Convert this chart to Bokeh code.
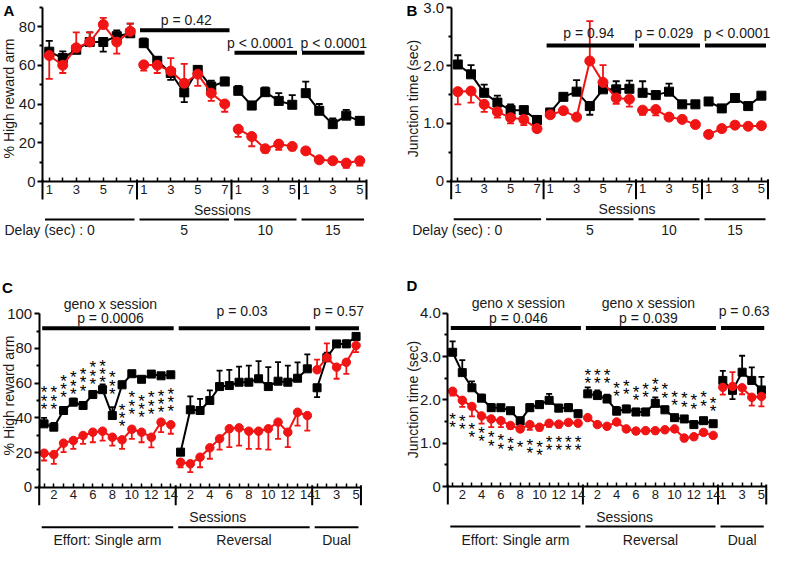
import math
from bokeh.plotting import figure
from bokeh.models import LinearAxis, FixedTicker, Range1d
from bokeh.layouts import column, row
from bokeh.embed import file_html
from bokeh.resources import INLINE
from bokeh.core.properties import value

FONT = "Liberation Sans"
RED = "#f01414"
BLACK = "#000000"
TXT = "#1a1a1a"

# ---------------- Panel A : % High reward arm across delay blocks
A_blocks = [7, 7, 5, 5]
A_tick_labels = [[1, 3, 5, 7], [1, 3, 5, 7], [1, 3, 5], [1, 3, 5]]
A_block_names = ["Delay (sec) : 0", "5", "10", "15"]
A_black = [67, 63.7, 68, 72, 72, 75, 76.5,
           71.4, 62.3, 56, 46, 57.6, 49, 51.6,
           46.8, 39.2, 46.1, 41.6, 39.6,
           45.6, 36.5, 29.6, 34, 31.3]
A_black_err = [5.6, 3.5, 2, 5, -5, 3, 5,
               2.5, 2, -3.5, -5, 2, 3, 2,
               2.5, 2, 2.5, 4, 5,
               6, 3.5, 3, 3, 2]
A_red = [65, 60, 69, 72, 81, 72, 77.5,
         60.2, 60, 57, 50.7, 55.4, 45.6, 40,
         27, 23.2, 16.9, 19.3, 18.1,
         15.8, 11.2, 10.7, 9.5, 10.7]
A_red_err = [-12, -4, 8, 5, 3.5, -6, 4,
             -3, -4, 6.7, 10, -6, -4, -4,
             -4, -5, -2, -3, -2,
             -1, -1.5, -1.5, -2.5, -2.5]
A_p_blocks = [1, 2, 3]
A_p_text = [["p = 0.42"], ["p < 0.0001"], ["p < 0.0001"]]
A_p_bar = [78.1, 66.4, 66.4]
A_yticks = [0, 20, 40, 60, 80]
A_ytick_labels = ["0", "20", "40", "60", "80"]
A_yminor = [10, 30, 50, 70, 90]
A_ymax = 90

# ---------------- Panel B : junction time across delay blocks
B_blocks = [7, 7, 5, 5]
B_tick_labels = [[1, 3, 5, 7], [1, 3, 5, 7], [1, 3, 5], [1, 3, 5]]
B_block_names = ["Delay (sec) : 0", "5", "10", "15"]
B_black = [2.02, 1.85, 1.53, 1.36, 1.23, 1.23, 1.06,
           1.19, 1.46, 1.55, 1.30, 1.59, 1.59, 1.60,
           1.53, 1.49, 1.55, 1.33, 1.33,
           1.38, 1.26, 1.44, 1.30, 1.48]
B_black_err = [0.16, 0.16, 0.14, 0.12, 0.1, 0.06, 0.06,
               0.05, 0.05, 0.2, -0.15, 0.07, 0.14, 0.14,
               0.2, 0.07, 0.14, 0.05, 0.05,
               0.06, 0.06, 0.05, 0.05, 0.05]
B_red = [1.55, 1.56, 1.33, 1.20, 1.10, 1.07, 0.91,
         1.15, 1.22, 1.11, 2.08, 1.71, 1.44, 1.42,
         1.23, 1.24, 1.11, 1.07, 0.98,
         0.81, 0.91, 0.97, 0.95, 0.96]
B_red_err = [-0.22, -0.2, -0.13, -0.1, -0.1, -0.1, -0.05,
             -0.05, -0.05, -0.04, 0.69, 0.3, -0.1, -0.13,
             -0.08, -0.1, -0.04, -0.04, -0.04,
             -0.03, -0.03, -0.03, -0.03, -0.03]
B_p_blocks = [1, 2, 3]
B_p_text = [["p = 0.94"], ["p = 0.029"], ["p < 0.0001"]]
B_p_bar = [2.35, 2.35, 2.35]
B_yticks = [0, 1, 2, 3]
B_ytick_labels = ["0", "1.0", "2.0", "3.0"]
B_yminor = [0.5, 1.5, 2.5]
B_ymax = 3.0

# ---------------- Panel C : % High reward arm, effort / reversal / dual
C_blocks = [14, 14, 5]
C_tick_labels = [[2, 4, 6, 8, 10, 12, 14], [2, 4, 6, 8, 10, 12, 14], [1, 3, 5]]
C_block_names = ["Effort: Single arm", "Reversal", "Dual"]
C_black = [36.5, 34.6, 44.2, 49, 47.1, 53.4, 56.2, 41.3, 59, 65.4, 62.2, 65.2, 64.2, 64.8,
           20.2, 44.6, 44.2, 50, 58, 58.6, 60.5, 60.5, 62.5, 58, 61.1, 60.5, 62.8, 68.2,
           57.3, 74.6, 82.6, 82.6, 86.9]
C_black_err = [3.5, 2.5, 2, 2, 2, 2, 3, 4.8, 2, 1.5, 1.5, 1.5, 1.5, 1.5,
               1.5, 7.7, 6.7, 5.8, 9.2, 9, 9, 9.6, 10.2, 11.2, 11, 9.6, 9.2, 8.3,
               -5.4, 3, 1.5, 2, 1.5]
C_red = [19.6, 18.8, 25.4, 26.9, 29.8, 31.7, 32.3, 28.8, 27.3, 33.4, 31.7, 28.8, 37.5, 36,
         14.4, 13.5, 17.3, 22.7, 27.9, 33.7, 34.2, 32.3, 32.3, 33.7, 37.5, 31.7, 43.2, 41.3,
         67.7, 74.6, 69.2, 72, 81.7]
C_red_err = [-4.2, -5.4, -5.2, -4.8, -4.8, -5.8, -5.4, -4.8, -5.2, -5.6, -5.8, -5.8, -5.8, -5.2,
             -2.9, -4.8, -5.8, -6.3, -6.3, -10.6, -10.2, -10.2, -10.2, -12, -9.6, -8.6, -7.7, -8.7,
             5.8, 8.3, -6.7, -6.7, -3.8]
C_p_blocks = [0, 1, 2]
C_p_text = [["geno x session", "p = 0.0006"], ["p = 0.03"], ["p = 0.57"]]
C_p_bar = [91.6, 91.6, 91.6]
C_star_x = [1, 2, 3, 4, 5, 6, 7, 8, 9, 10, 11, 12, 13, 14]
C_star_mid = [51.9, 51.9, 58.6, 60.5, 62.5, 66.3, 67.3, 60.5, 41.9, 49, 47.1, 49, 50, 51]
C_star_n = [3, 3, 3, 3, 3, 3, 3, 3, 3, 3, 3, 3, 3, 3]
C_yticks = [0, 20, 40, 60, 80, 100]
C_ytick_labels = ["0", "20", "40", "60", "80", "100"]
C_yminor = [10, 30, 50, 70, 90]
C_ymax = 100

# ---------------- Panel D : junction time, effort / reversal / dual
D_blocks = [14, 14, 5]
D_tick_labels = [[2, 4, 6, 8, 10, 12, 14], [2, 4, 6, 8, 10, 12, 14], [1, 3, 5]]
D_block_names = ["Effort: Single arm", "Reversal", "Dual"]
D_black = [3.10, 2.63, 2.28, 2.04, 1.82, 1.82, 1.75, 1.51, 1.82, 1.89, 1.99, 1.81, 1.82, 1.68,
           2.14, 2.10, 2.02, 1.74, 1.79, 1.72, 1.72, 1.92, 1.77, 1.59, 1.56, 1.43, 1.52, 1.45,
           2.45, 2.22, 2.64, 2.45, 2.23]
D_black_err = [0.25, 0.29, 0.15, 0.08, 0.08, 0.06, 0.06, 0.09, 0.08, 0.08, 0.15, 0.08, 0.08, 0.08,
               0.15, 0.12, 0.1, 0.1, 0.08, 0.08, 0.08, 0.14, 0.08, 0.05, 0.05, 0.05, 0.05, 0.05,
               0.22, -0.2, 0.38, 0.3, 0.3]
D_red = [2.20, 1.99, 1.85, 1.63, 1.56, 1.52, 1.41, 1.33, 1.43, 1.37, 1.46, 1.44, 1.48, 1.46,
         1.59, 1.43, 1.39, 1.49, 1.33, 1.28, 1.29, 1.29, 1.31, 1.33, 1.12, 1.15, 1.25, 1.18,
         2.29, 2.31, 2.28, 2.06, 2.08]
D_red_err = [-0.1, -0.15, -0.23, -0.18, -0.19, -0.15, -0.08, -0.05, -0.12, -0.08, -0.08, -0.08, -0.06, -0.06,
             -0.06, -0.06, -0.06, -0.06, -0.06, -0.06, -0.06, -0.06, -0.06, -0.06, -0.08, -0.06, -0.06, -0.06,
             -0.17, 0.33, -0.15, -0.19, -0.23]
D_p_blocks = [0, 1, 2]
D_p_text = [["geno x session", "p = 0.046"], ["geno x session", "p = 0.039"], ["p = 0.63"]]
D_p_bar = [3.66, 3.66, 3.66]
D_star_x = [1, 2, 3, 4, 5, 6, 7, 8, 9, 10, 11, 12, 13, 14,
            15, 16, 17, 18, 19, 20, 21, 22, 23, 24, 25, 26, 27, 28]
D_star_mid = [1.55, 1.50, 1.32, 1.23, 1.12, 1.05, 1.0, 1.0, 0.95, 0.90, 1.02, 1.02, 1.02, 1.02,
              2.57, 2.56, 2.56, 2.27, 2.31, 2.17, 2.24, 2.36, 2.23, 2.05, 2.02, 1.97, 2.04, 1.92]
D_star_n = [2, 2, 2, 2, 2, 2, 2, 1, 2, 2, 2, 2, 2, 2,
            2, 2, 2, 2, 2, 2, 2, 2, 2, 2, 2, 2, 2, 2]
D_yticks = [0, 1, 2, 3, 4]
D_ytick_labels = ["0", "1.0", "2.0", "3.0", "4.0"]
D_yminor = [0.5, 1.5, 2.5, 3.5]
D_ymax = 4.0


def txt(p, x, y, s, size="14px", align="center", baseline="middle", angle=0.0,
        bold=False, color=TXT, y_offset=0, x_offset=0):
    p.text(x=x if isinstance(x, list) else [x], y=y if isinstance(y, list) else [y],
           text=s if isinstance(s, list) else [s],
           text_font=value(FONT), text_font_size=size, text_align=align,
           text_baseline=baseline, angle=angle, text_color=color,
           text_font_style="bold" if bold else "normal", y_offset=y_offset,
           x_offset=x_offset)


def panel(d, g):
    W, H, ax0, dx, y0, dy = g["W"], g["H"], g["ax0"], g["dx"], g["y0"], g["dy"]

    def X(px):
        return 0.5 + (px - ax0) / dx

    def V(py):
        return (y0 - py) / dy

    def ux(pix):
        return pix / dx

    def uy(pix):
        return pix / dy

    p = figure(width=W, height=H, x_range=Range1d(X(0), X(W)), y_range=Range1d(V(H), V(0)),
               output_backend="svg", toolbar_location=None, x_axis_type=None, y_axis_type=None,
               min_border=0, outline_line_color=None)
    p.grid.visible = False

    sizes = d["blocks"]
    N = sum(sizes)
    starts = []
    s = 1
    for n in sizes:
        starts.append(s)
        s += n
    ends = [st + n - 1 for st, n in zip(starts, sizes)]
    centers = [(a + b) / 2 for a, b in zip(starts, ends)]
    xs = list(range(1, N + 1))

    # ---- axes
    overrides = {}
    for k, (st, labs) in enumerate(zip(starts, d["tick_labels"])):
        for i in range(sizes[k]):
            overrides[st + i] = str(i + 1) if (i + 1) in labs else ""
    xax = LinearAxis(fixed_location=0, bounds=(0.5, N + 0.5), ticker=FixedTicker(ticks=xs),
                     major_label_overrides=overrides, axis_line_width=2,
                     major_tick_in=4, major_tick_out=0, minor_tick_in=0, minor_tick_out=0,
                     major_tick_line_width=1.5, major_label_standoff=3,
                     major_label_text_font=FONT, major_label_text_font_size=g["xfont"],
                     major_label_text_color=TXT)
    p.add_layout(xax, "below")
    yax = LinearAxis(fixed_location=0.5, bounds=(0, d["ymax"]),
                     ticker=FixedTicker(ticks=d["yticks"], minor_ticks=d["yminor"]),
                     major_label_overrides=dict(zip(d["yticks"], d["ytick_labels"])),
                     axis_line_width=2, major_tick_out=5, major_tick_in=0,
                     minor_tick_out=3, minor_tick_in=0, major_tick_line_width=2,
                     minor_tick_line_width=2, major_label_standoff=2,
                     major_label_text_font=FONT, major_label_text_font_size=g["yfont"],
                     major_label_text_color=TXT)
    p.add_layout(yax, "left")

    # block dividers below the axis
    bx = [0.5] + [e + 0.5 for e in ends]
    p.segment(x0=bx, y0=[uy(2)] * len(bx), x1=bx, y1=[-uy(18)] * len(bx),
              line_color=BLACK, line_width=2)

    # ---- series
    for vals, errs, color, marker, msize in [
            (d["black"], d["black_err"], BLACK, "square", g["sq"]),
            (d["red"], d["red_err"], RED, "circle", g["ci"])]:
        tips = [v + e for v, e in zip(vals, errs)]
        p.segment(x0=xs, y0=vals, x1=xs, y1=tips, line_color=color, line_width=g["ew"])
        p.scatter(x=xs, y=tips, marker="dash", size=g["cap"], line_color=color,
                  line_width=g["ew"])
        mx = [xs[st - 1:e] for st, e in zip(starts, ends)]
        my = [vals[st - 1:e] for st, e in zip(starts, ends)]
        p.multi_line(xs=mx, ys=my, line_color=color, line_width=g["lw"])
        p.scatter(x=xs, y=vals, marker=marker, size=msize, fill_color=color,
                  line_color=color)

    # ---- significance stars
    if d.get("star_x"):
        sx, sy = [], []
        for x, m, n in zip(d["star_x"], d["star_mid"], d["star_n"]):
            for k in range(n):
                sx.append(x)
                sy.append(m - (k - (n - 1) / 2) * uy(g["star_gap"]))
        txt(p, sx, sy, ["*"] * len(sx), size="17px", baseline="middle",
            y_offset=g["star_yoff"], color=BLACK)

    # ---- p-value bars and texts
    for i, (b, lines, yb) in enumerate(zip(d["p_blocks"], d["p_text"], d["p_bar"])):
        x0 = starts[b] - 0.5 + ux(3)
        x1 = ends[b] + 0.5 - ux(2)
        p.segment(x0=[x0], y0=[yb], x1=[x1], y1=[yb], line_color=BLACK, line_width=4)
        n = len(lines)
        for j, line in enumerate(lines):
            off = g["poff"] + ((n - 1) / 2 - j) * 14.4
            txt(p, centers[b], yb + uy(off), line, size="14px",
                x_offset=g["p_dx"][i])

    # ---- labels under the axis
    txt(p, 0.5 + 0.555 * N, -uy(g["sess_off"]), "Sessions", size="14px")
    ul0 = [st - 0.5 + ux(2.5) for st in starts]
    ul1 = [e + 0.5 - ux(2.5) for e in ends]
    ly = -uy(g["line_off"])
    p.segment(x0=ul0, y0=[ly] * len(ul0), x1=ul1, y1=[ly] * len(ul0),
              line_color=BLACK, line_width=2)
    lab_y = -uy(g["lab_off"])
    for k, name in enumerate(d["block_names"]):
        if k == 0 and g["first_right"]:
            txt(p, centers[0] + ux(5), lab_y, name, align="right")
        else:
            txt(p, centers[k], lab_y, name)

    # ---- y label and panel letter
    txt(p, X(g["ylab_x"]), V(g["ylab_y"]), d["ylabel"], angle=math.pi / 2)
    txt(p, X(g["let_x"]), V(g["let_y"]), d["letter"], size="15px", align="left",
        baseline="top", bold=True, color=BLACK)
    return p


top_common = dict(H=276, xfont="13px", yfont="15px", sq=9, ci=10, ew=1.8, cap=7, lw=2,
                  sess_off=28, line_off=38, lab_off=48.5, first_right=True)
bot_common = dict(H=272, xfont="13px", yfont="15px", sq=8, ci=8.5, ew=1.8, cap=6, lw=2,
                  sess_off=30, line_off=40, lab_off=53, first_right=False,
                  poff=17.5, star_gap=8.4, star_yoff=4, p_dx=[3, -2, 2])

pA = panel(dict(blocks=A_blocks, tick_labels=A_tick_labels, block_names=A_block_names,
                black=A_black, black_err=A_black_err, red=A_red, red_err=A_red_err,
                p_blocks=A_p_blocks, p_text=A_p_text, p_bar=A_p_bar,
                yticks=A_yticks, ytick_labels=A_ytick_labels, yminor=A_yminor,
                ymax=A_ymax, ylabel="% High reward arm", letter="A"),
           dict(top_common, W=375, ax0=42, dx=13.5, y0=181, dy=1.9375, poff=10,
                p_dx=[2, -5, 1], ylab_x=8, ylab_y=98, let_x=3, let_y=1))
pB = panel(dict(blocks=B_blocks, tick_labels=B_tick_labels, block_names=B_block_names,
                black=B_black, black_err=B_black_err, red=B_red, red_err=B_red_err,
                p_blocks=B_p_blocks, p_text=B_p_text, p_bar=B_p_bar,
                yticks=B_yticks, ytick_labels=B_ytick_labels, yminor=B_yminor,
                ymax=B_ymax, ylabel="Junction time (sec)", letter="B"),
           dict(top_common, W=396, ax0=75.7, dx=13.2, y0=180.7, dy=57.78, poff=12.4,
                p_dx=[-1, -5, 2], ylab_x=37, ylab_y=98, let_x=31, let_y=1))
pC = panel(dict(blocks=C_blocks, tick_labels=C_tick_labels, block_names=C_block_names,
                black=C_black, black_err=C_black_err, red=C_red, red_err=C_red_err,
                p_blocks=C_p_blocks, p_text=C_p_text, p_bar=C_p_bar,
                star_x=C_star_x, star_mid=C_star_mid, star_n=C_star_n,
                yticks=C_yticks, ytick_labels=C_ytick_labels, yminor=C_yminor,
                ymax=C_ymax, ylabel="% High reward arm", letter="C"),
           dict(bot_common, W=375, ax0=38.7, dx=9.75, y0=210.7, dy=1.735,
                ylab_x=8, ylab_y=119, let_x=1.5, let_y=2))
pD = panel(dict(blocks=D_blocks, tick_labels=D_tick_labels, block_names=D_block_names,
                black=D_black, black_err=D_black_err, red=D_red, red_err=D_red_err,
                p_blocks=D_p_blocks, p_text=D_p_text, p_bar=D_p_bar,
                star_x=D_star_x, star_mid=D_star_mid, star_n=D_star_n,
                yticks=D_yticks, ytick_labels=D_ytick_labels, yminor=D_yminor,
                ymax=D_ymax, ylabel="Junction time (sec)", letter="D"),
           dict(bot_common, W=396, ax0=72.3, dx=9.65, y0=210, dy=43.3,
                ylab_x=37, ylab_y=123, let_x=31, let_y=0))

layout = column(row(pA, pB), row(pC, pD))
open("out.html", "w").write(file_html(layout, INLINE))
